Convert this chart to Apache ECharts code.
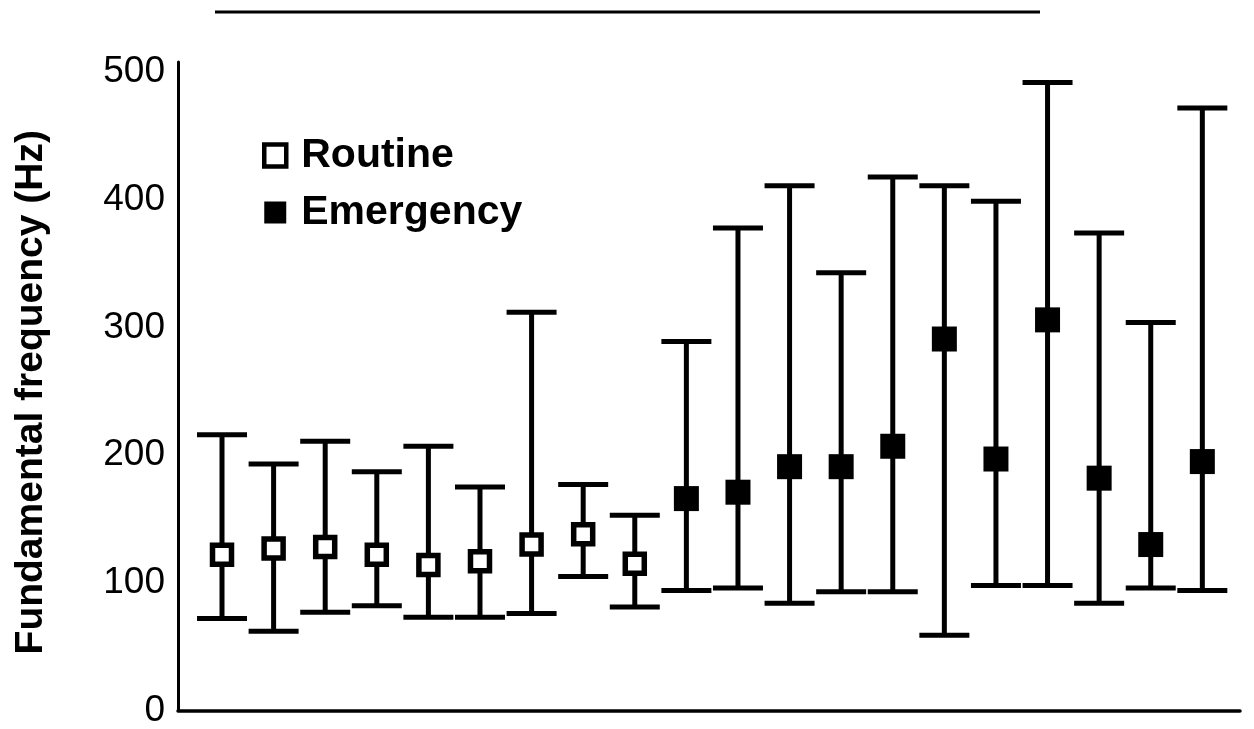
<!DOCTYPE html>
<html>
<head>
<meta charset="utf-8">
<script src="https://cdn.jsdelivr.net/npm/echarts@6/dist/echarts.min.js"></script>
<style>
html,body{margin:0;padding:0;background:#fff;}
#chart{width:1254px;height:729px;}
</style>
</head>
<body>
<div id="chart"></div>
<script>
// Subject positions along the x axis
var routineSubjects = [1, 2, 3, 4, 5, 6, 7, 8, 9];
var emergencySubjects = [10, 11, 12, 13, 14, 15, 16, 17, 18, 19, 20];

// Routine: mean, lower, upper (Hz)
var routineMean = [122, 127, 128, 122, 114, 117, 130, 138, 115];
var routineLow  = [72, 62, 77, 82, 73, 73, 76, 105, 81];
var routineHigh = [216, 193, 211, 187, 207, 175, 312, 177, 153];

// Emergency: mean, lower, upper (Hz)
var emergencyMean = [166, 171, 191, 191, 207, 291, 197, 306, 182, 130, 195];
var emergencyLow  = [94, 96, 84, 93, 93, 59, 98, 98, 84, 96, 94];
var emergencyHigh = [289, 378, 411, 343, 418, 411, 399, 492, 374, 304, 472];

var yTicks = [0, 100, 200, 300, 400, 500];

function zip3(xs, lo, hi) {
  return xs.map(function (x, i) { return [x, lo[i], hi[i]]; });
}
function zip2(xs, ys) {
  return xs.map(function (x, i) { return [x, ys[i]]; });
}

function renderErrorBar(params, api) {
  var x = api.value(0);
  var lo = api.coord([x, api.value(1)]);
  var hi = api.coord([x, api.value(2)]);
  var capHalf = 25;
  var style = { stroke: '#000', lineWidth: 5 };
  return {
    type: 'group',
    children: [
      { type: 'line', shape: { x1: lo[0], y1: lo[1], x2: hi[0], y2: hi[1] }, style: style },
      { type: 'line', shape: { x1: lo[0] - capHalf, y1: lo[1], x2: lo[0] + capHalf, y2: lo[1] }, style: style },
      { type: 'line', shape: { x1: hi[0] - capHalf, y1: hi[1], x2: hi[0] + capHalf, y2: hi[1] }, style: style }
    ]
  };
}

var chart = echarts.init(document.getElementById('chart'));
var font = '"Liberation Sans", Arial, Helvetica, sans-serif';

chart.setOption({
  animation: false,
  backgroundColor: '#fff',
  grid: { left: 178, right: 14, top: 62, bottom: 9 },
  xAxis: {
    type: 'value',
    min: 0.147,
    max: 20.73,
    axisLine: { show: true, lineStyle: { color: '#000', width: 3.5 } },
    axisTick: { show: false },
    axisLabel: { show: false },
    splitLine: { show: false }
  },
  yAxis: {
    type: 'value',
    min: 0,
    max: 508,
    interval: 100,
    name: 'Fundamental frequency (Hz)',
    nameLocation: 'middle',
    nameGap: 127,
    nameTextStyle: { fontFamily: font, fontWeight: 'bold', fontSize: 39, color: '#000', padding: [0, 12, 0, 0] },
    axisLine: { show: true, lineStyle: { color: '#000', width: 3 } },
    axisTick: { show: false },
    splitLine: { show: false },
    axisLabel: {
      margin: 13,
      fontFamily: font,
      fontSize: 37,
      color: '#000',
      formatter: function (v) { return yTicks.indexOf(v) >= 0 ? String(v) : ''; }
    }
  },
  legend: {
    orient: 'vertical',
    left: 262,
    top: 135,
    padding: 0,
    itemWidth: 22,
    itemHeight: 22,
    itemGap: 16,
    textStyle: { fontFamily: font, fontWeight: 'bold', fontSize: 41, color: '#000', padding: [0, 0, 0, 10] },
    data: [
      { name: 'Routine', icon: 'rect', itemStyle: { color: '#fff', borderColor: '#000', borderWidth: 4.5 } },
      { name: 'Emergency', icon: 'rect', itemStyle: { color: '#000', borderColor: '#000', borderWidth: 0 } }
    ]
  },
  graphic: [
    { type: 'line', shape: { x1: 215, y1: 12, x2: 1040, y2: 12 }, style: { stroke: '#000', lineWidth: 3 } }
  ],
  series: [
    {
      name: 'Routine bars',
      type: 'custom',
      renderItem: renderErrorBar,
      data: zip3(routineSubjects, routineLow, routineHigh),
      z: 1
    },
    {
      name: 'Emergency bars',
      type: 'custom',
      renderItem: renderErrorBar,
      data: zip3(emergencySubjects, emergencyLow, emergencyHigh),
      z: 1
    },
    {
      name: 'Routine',
      type: 'scatter',
      symbol: 'rect',
      symbolSize: 19,
      itemStyle: { color: '#fff', borderColor: '#000', borderWidth: 5.5, opacity: 1 },
      data: zip2(routineSubjects, routineMean),
      z: 5
    },
    {
      name: 'Emergency',
      type: 'scatter',
      symbol: 'rect',
      symbolSize: 25,
      itemStyle: { color: '#000', opacity: 1 },
      data: zip2(emergencySubjects, emergencyMean),
      z: 5
    }
  ]
});
</script>
</body>
</html>
